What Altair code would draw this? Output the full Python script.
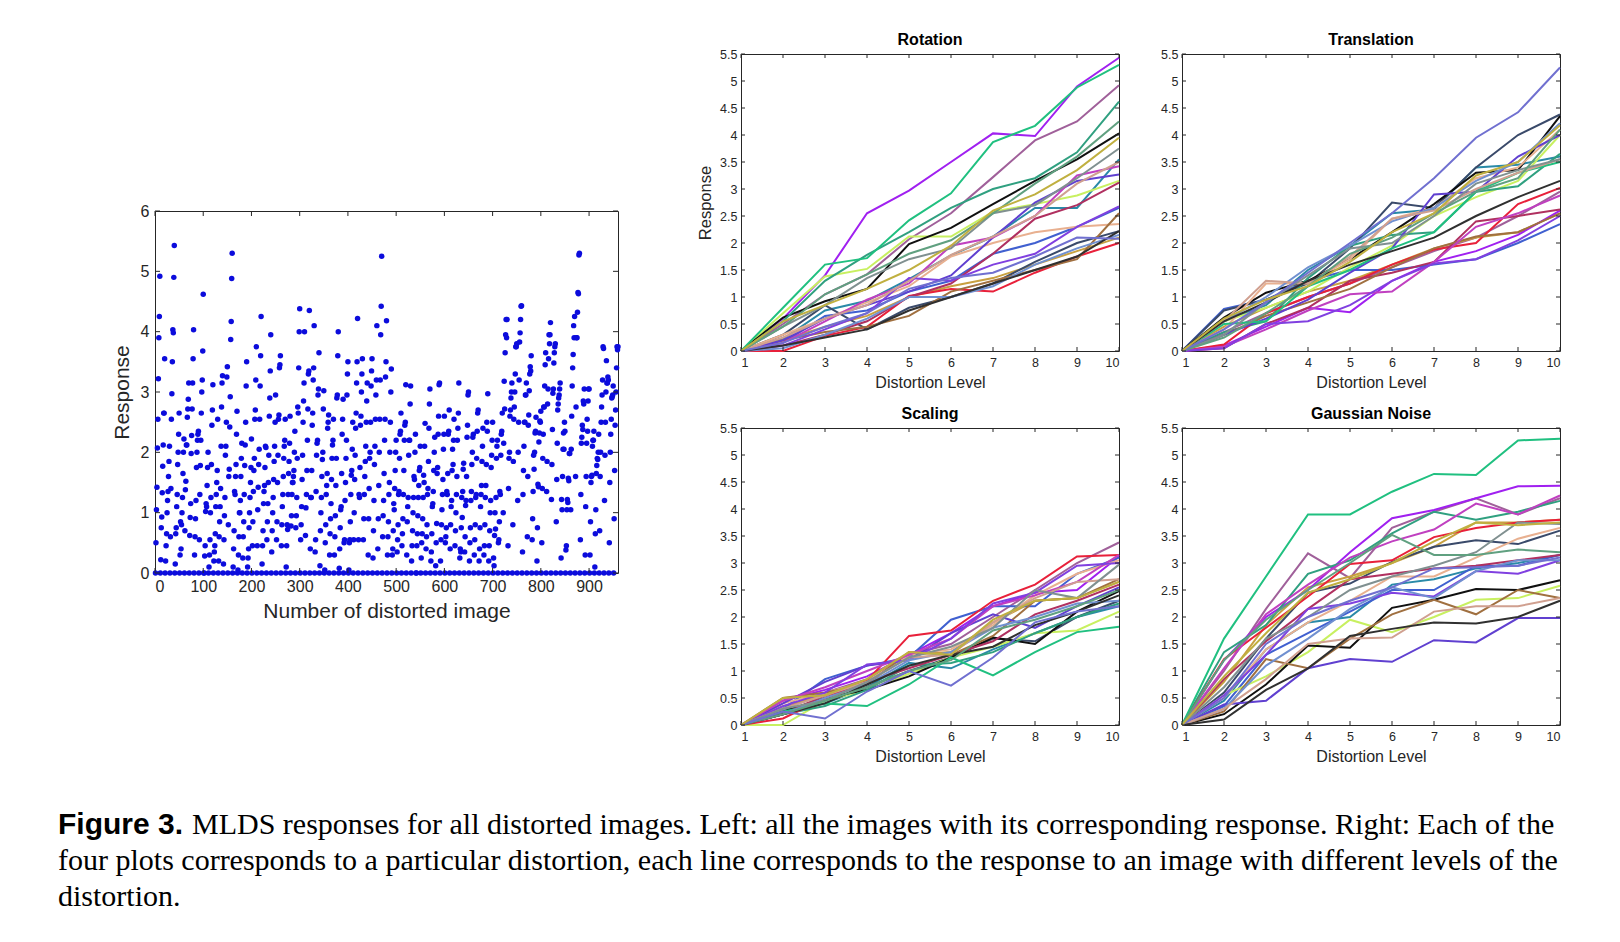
import altair as alt
import pandas as pd

levels = list(range(1, 11))
panel_ticks_y = [0, 0.5, 1, 1.5, 2, 2.5, 3, 3.5, 4, 4.5, 5, 5.5]
scatter_ticks_x = [0, 100, 200, 300, 400, 500, 600, 700, 800, 900]
scatter_ticks_y = [0, 1, 2, 3, 4, 5, 6]

palette = [
    "#a0609a", "#2a8aa8", "#c8a040", "#a020f0", "#4060d0", "#3a4a6a",
    "#c8f060", "#101010", "#e8b090", "#30a080", "#e8203a", "#b03060",
    "#a07040", "#6040d0", "#c040c0", "#20c080", "#8040e0", "#7090d0",
    "#d0a090", "#303030", "#809090", "#60a080", "#7070d0", "#c0b040",
]

rotation = [
    [0, 0.5, 1.05, 1.42, 2.07, 2.55, 3.22, 3.9, 4.25, 4.92],
    [0, 0.22, 0.75, 0.93, 1.33, 1.77, 2.12, 2.65, 2.65, 3.55],
    [0, 0.2, 0.45, 0.65, 1.0, 1.2, 1.35, 1.6, 1.85, 2.1],
    [0, 0.6, 1.4, 2.55, 2.97, 3.5, 4.03, 3.98, 4.9, 5.43],
    [0, 0.15, 0.65, 0.75, 1.1, 1.3, 1.8, 2.0, 2.3, 2.65],
    [0, 0.3, 0.85, 0.4, 0.8, 1.0, 1.25, 1.65, 2.0, 2.22],
    [0, 0.7, 1.38, 1.52, 2.12, 2.12, 2.58, 2.72, 2.88, 3.15],
    [0, 0.62, 0.92, 1.15, 1.98, 2.28, 2.72, 3.15, 3.55, 4.03],
    [0, 0.3, 0.6, 0.9, 1.2, 1.75, 2.0, 2.2, 2.3, 2.35],
    [0, 0.55, 1.3, 1.78, 2.2, 2.65, 3.0, 3.2, 3.68, 4.62],
    [0, 0.0, 0.28, 0.45, 1.02, 1.15, 1.1, 1.45, 1.75, 2.0],
    [0, 0.1, 0.3, 0.55, 1.0, 1.25, 1.8, 2.45, 2.7, 3.12],
    [0, 0.2, 0.35, 0.45, 0.65, 1.1, 1.3, 1.5, 1.7, 2.55],
    [0, 0.2, 0.6, 0.85, 1.1, 1.4, 2.1, 2.75, 3.15, 3.27],
    [0, 0.15, 0.55, 0.95, 1.25, 1.95, 2.1, 2.5, 3.25, 3.42],
    [0, 0.8, 1.6, 1.72, 2.42, 2.92, 3.87, 4.17, 4.88, 5.3],
    [0, 0.1, 0.4, 0.7, 1.35, 1.3, 1.6, 1.8, 2.3, 2.68],
    [0, 0.05, 0.3, 0.6, 1.0, 1.0, 1.2, 1.6, 1.9, 2.15],
    [0, 0.25, 0.6, 0.85, 1.3, 1.78, 2.12, 2.5, 3.1, 3.5],
    [0, 0.1, 0.25, 0.4, 0.75, 1.0, 1.25, 1.5, 1.75, 2.22],
    [0, 0.45, 0.85, 1.35, 1.7, 1.9, 2.55, 2.7, 3.2, 3.75],
    [0, 0.45, 1.05, 1.42, 1.8, 2.05, 2.55, 3.1, 3.6, 4.25],
    [0, 0.15, 0.45, 0.7, 1.15, 1.35, 1.45, 1.75, 2.1, 2.08],
    [0, 0.55, 0.85, 1.15, 1.5, 1.95, 2.6, 2.9, 3.35, 3.95],
]

translation = [
    [0, 0.35, 0.7, 1.0, 1.25, 1.55, 1.85, 2.1, 2.5, 2.95],
    [0, 0.55, 0.85, 1.5, 1.95, 2.55, 2.62, 3.4, 3.45, 3.6],
    [0, 0.45, 0.8, 1.1, 1.3, 1.6, 1.9, 2.1, 2.2, 2.55],
    [0, 0.1, 0.45, 0.8, 0.72, 1.3, 1.65, 1.85, 2.15, 2.6],
    [0, 0.78, 0.95, 1.3, 1.5, 1.5, 1.6, 1.7, 2.0, 2.35],
    [0, 0.75, 0.95, 1.25, 1.9, 2.75, 2.65, 3.4, 4.0, 4.38],
    [0, 0.55, 0.8, 1.1, 1.55, 1.95, 2.5, 2.85, 3.15, 4.0],
    [0, 0.62, 1.08, 1.3, 1.7, 2.2, 2.72, 3.3, 3.35, 4.35],
    [0, 0.4, 1.25, 1.25, 1.7, 2.45, 2.65, 3.2, 3.4, 4.1],
    [0, 0.35, 0.55, 1.35, 1.95, 2.15, 2.2, 2.95, 3.05, 3.65],
    [0, 0.12, 0.7, 1.0, 1.25, 1.6, 1.88, 2.0, 2.72, 3.02],
    [0, 0.05, 0.5, 0.8, 1.3, 1.45, 1.65, 2.4, 2.5, 2.62],
    [0, 0.3, 0.65, 0.9, 1.15, 1.55, 1.9, 2.12, 2.2, 2.55],
    [0, 0.3, 0.6, 0.95, 1.45, 1.9, 2.9, 2.95, 3.6, 4.0],
    [0, 0.08, 0.4, 0.75, 1.05, 1.1, 1.65, 2.3, 2.55, 2.88],
    [0, 0.5, 0.55, 1.2, 1.5, 1.9, 2.2, 2.95, 3.3, 3.5],
    [0, 0.05, 0.5, 0.55, 0.85, 1.3, 1.62, 1.7, 2.05, 2.5],
    [0, 0.55, 1.0, 1.55, 1.95, 2.4, 2.65, 3.15, 3.5, 4.22],
    [0, 0.55, 1.3, 1.25, 1.75, 2.45, 2.6, 3.0, 3.3, 3.55],
    [0, 0.55, 0.9, 1.3, 1.6, 1.85, 2.1, 2.5, 2.85, 3.15],
    [0, 0.3, 0.9, 1.4, 1.9, 2.0, 2.5, 3.1, 3.35, 3.55],
    [0, 0.25, 0.7, 1.2, 1.8, 2.1, 2.55, 2.95, 3.2, 4.1],
    [0, 0.4, 0.9, 1.45, 2.0, 2.55, 3.2, 3.95, 4.42, 5.25],
    [0, 0.6, 0.95, 1.2, 1.65, 2.2, 2.55, 3.25, 3.5, 4.18],
]

scaling = [
    [0, 0.3, 0.6, 0.85, 1.3, 1.5, 2.0, 2.5, 3.0, 3.38],
    [0, 0.3, 0.4, 0.7, 1.15, 1.05, 1.4, 1.7, 2.0, 2.2],
    [0, 0.35, 0.55, 0.8, 1.3, 1.35, 1.9, 2.3, 2.35, 2.65],
    [0, 0.45, 0.65, 0.9, 1.3, 1.7, 2.2, 2.45, 2.5, 3.12],
    [0, 0.3, 0.85, 1.1, 1.25, 1.95, 2.2, 2.2, 2.8, 3.1],
    [0, 0.2, 0.45, 0.7, 1.0, 1.25, 1.6, 1.55, 2.0, 2.3],
    [0, 0.0, 0.45, 0.65, 0.95, 1.25, 1.45, 1.7, 1.75, 2.1],
    [0, 0.25, 0.5, 0.65, 0.9, 1.25, 1.62, 1.5, 2.1, 2.48],
    [0, 0.4, 0.6, 0.8, 1.3, 1.4, 1.85, 2.4, 2.8, 3.05],
    [0, 0.2, 0.35, 0.65, 1.1, 1.15, 1.35, 1.7, 2.0, 2.25],
    [0, 0.12, 0.5, 0.82, 1.65, 1.75, 2.3, 2.6, 3.12, 3.15],
    [0, 0.2, 0.55, 0.8, 1.05, 1.3, 1.55, 2.05, 2.3, 2.6],
    [0, 0.5, 0.6, 0.75, 1.35, 1.3, 1.65, 2.3, 2.35, 2.7],
    [0, 0.4, 0.8, 1.1, 1.2, 1.7, 2.05, 1.8, 2.2, 2.55],
    [0, 0.45, 0.7, 1.0, 1.3, 1.6, 2.2, 2.4, 2.65, 3.15],
    [0, 0.25, 0.4, 0.35, 0.75, 1.25, 0.92, 1.35, 1.72, 1.82],
    [0, 0.35, 0.6, 1.12, 1.2, 1.6, 2.25, 2.45, 2.95, 3.0],
    [0, 0.2, 0.5, 0.75, 1.2, 1.35, 1.8, 2.0, 2.25, 2.3],
    [0, 0.3, 0.55, 0.8, 1.25, 1.3, 1.9, 2.35, 2.65, 2.7],
    [0, 0.2, 0.4, 0.75, 1.1, 1.3, 1.45, 1.85, 2.1, 2.4],
    [0, 0.3, 0.45, 0.8, 1.25, 1.45, 1.8, 2.5, 2.35, 2.97],
    [0, 0.2, 0.45, 0.7, 1.0, 1.2, 1.75, 1.95, 2.2, 2.5],
    [0, 0.25, 0.12, 0.62, 1.0, 0.73, 1.25, 1.9, 2.1, 2.2],
    [0, 0.5, 0.55, 0.85, 1.35, 1.3, 1.95, 2.3, 2.35, 2.65],
]

gaussian = [
    [0, 1.0, 2.15, 3.18, 2.72, 3.65, 3.95, 4.2, 3.9, 4.2],
    [0, 0.45, 1.4, 1.9, 2.0, 2.6, 2.7, 2.9, 3.0, 3.15],
    [0, 0.8, 1.85, 2.55, 2.75, 3.0, 3.3, 3.75, 3.75, 3.8],
    [0, 1.2, 2.0, 2.5, 3.2, 3.83, 3.98, 4.2, 4.42, 4.43],
    [0, 0.35, 1.3, 1.7, 2.1, 2.5, 2.5, 2.95, 2.95, 3.15],
    [0, 0.6, 1.6, 2.45, 2.62, 3.02, 3.3, 3.42, 3.35, 3.6],
    [0, 0.55, 0.9, 1.35, 1.95, 1.72, 2.0, 2.32, 2.35, 2.58],
    [0, 0.2, 0.75, 1.47, 1.43, 2.17, 2.32, 2.52, 2.5, 2.68],
    [0, 0.5, 1.4, 1.9, 2.3, 2.75, 2.75, 3.1, 3.45, 3.65],
    [0, 1.35, 1.85, 2.8, 3.05, 3.55, 3.95, 3.8, 3.95, 4.15],
    [0, 1.22, 1.8, 2.38, 2.98, 3.05, 3.48, 3.65, 3.75, 3.8],
    [0, 0.85, 1.55, 2.15, 2.7, 2.8, 2.9, 2.95, 3.05, 3.15],
    [0, 0.25, 1.22, 1.05, 1.6, 2.05, 2.32, 2.05, 2.5, 2.35],
    [0, 0.38, 0.45, 1.05, 1.22, 1.17, 1.57, 1.53, 1.98, 1.98],
    [0, 1.05, 2.05, 2.6, 3.1, 3.4, 3.62, 4.1, 3.9, 4.25],
    [0, 1.6, 2.75, 3.9, 3.9, 4.32, 4.65, 4.63, 5.27, 5.3],
    [0, 0.55, 1.3, 2.15, 2.25, 2.45, 2.38, 2.85, 2.8, 3.05],
    [0, 0.3, 1.1, 1.6, 2.15, 2.55, 2.35, 2.85, 3.05, 3.05],
    [0, 0.3, 0.85, 1.5, 1.6, 1.62, 2.1, 2.2, 2.2, 2.35],
    [0, 0.1, 0.65, 1.05, 1.65, 1.78, 1.9, 1.88, 2.0, 2.3],
    [0, 0.7, 1.6, 2.0, 2.5, 2.75, 2.95, 3.2, 3.75, 3.72],
    [0, 1.2, 1.95, 2.5, 3.0, 3.52, 3.15, 3.15, 3.25, 3.2],
    [0, 0.5, 1.5, 2.0, 2.3, 2.55, 2.9, 2.92, 2.95, 3.1],
    [0, 0.9, 1.7, 2.45, 2.7, 3.0, 3.4, 3.75, 3.7, 3.75],
]

panel_titles = ["Rotation", "Translation", "Scaling", "Gaussian Noise"]
caption_bold = "Figure 3."
caption_lines = [
    "MLDS responses for all distorted images. Left: all the images with its corresponding response. Right: Each of the",
    "four plots corresponds to a particular distortion, each line corresponds to the response to an image with different levels of the",
    "distortion.",
]

FONT = "Liberation Sans"
TXT = "#262626"
BOX = "#262626"


def panel_df(values):
    rows = []
    for i, line in enumerate(values):
        for lv, v in zip(levels, line):
            rows.append({"line": i, "level": lv, "response": v})
    return pd.DataFrame(rows)


def scatter_df():
    rows = []
    for b, values in enumerate([rotation, translation, scaling, gaussian]):
        for i, line in enumerate(values):
            for lv, v in zip(levels, line):
                rows.append({"idx": b * 240 + i * 10 + lv, "response": v})
    return pd.DataFrame(rows)


def inward_ticks(xvals, yvals, xscale, yscale, xaxis, yaxis, W, H, L):
    dx = pd.DataFrame({"v": xvals})
    dy = pd.DataFrame({"v": yvals})
    base_x = alt.Chart(dx).mark_rule(color=BOX, strokeWidth=1)
    base_y = alt.Chart(dy).mark_rule(color=BOX, strokeWidth=1)
    xb = base_x.encode(x=alt.X("v:Q", scale=xscale, axis=xaxis), y=alt.value(H), y2=alt.value(H - L))
    xt = base_x.encode(x=alt.X("v:Q", scale=xscale, axis=xaxis), y=alt.value(0), y2=alt.value(L))
    yl = base_y.encode(y=alt.Y("v:Q", scale=yscale, axis=yaxis), x=alt.value(0), x2=alt.value(L))
    yr = base_y.encode(y=alt.Y("v:Q", scale=yscale, axis=yaxis), x=alt.value(W), x2=alt.value(W - L))
    return [xb, xt, yl, yr]


# ---------- scatter ----------
SW, SH = 463, 362
sx = alt.Scale(domain=[0, 960], nice=False, zero=False)
sy = alt.Scale(domain=[0, 6], nice=False)
sx_axis = alt.Axis(values=scatter_ticks_x, title="Number of distorted image", labelFontSize=16,
                   titleFontSize=21, labelPadding=5, titlePadding=6, ticks=False, domain=False, grid=False)
sy_axis = alt.Axis(values=scatter_ticks_y, title="Response", labelFontSize=16, titleFontSize=21,
                   labelPadding=6, titlePadding=8, ticks=False, domain=False, grid=False)
scatter_pts = alt.Chart(scatter_df()).mark_circle(size=30, color="#0c0cdc", opacity=1).encode(
    x=alt.X("idx:Q", scale=sx, axis=sx_axis),
    y=alt.Y("response:Q", scale=sy, axis=sy_axis),
)
scatter = alt.layer(scatter_pts, *inward_ticks(scatter_ticks_x, scatter_ticks_y, sx, sy, sx_axis, sy_axis,
                                               SW, SH, 5)).properties(width=SW, height=SH)

spacer = alt.Chart(pd.DataFrame({"a": [0]})).mark_point(opacity=0).properties(
    width=SW, height=147, view=alt.ViewBackground(stroke="transparent"))

left_col = alt.vconcat(spacer, scatter, spacing=0)

# ---------- panels ----------
PW, PH = 378, 297


def panel(values, title, ytitle):
    px = alt.Scale(domain=[1, 10], nice=False, zero=False)
    py = alt.Scale(domain=[0, 5.5], nice=False)
    yopts = dict(values=panel_ticks_y, format="~g", labelFontSize=12.5, labelPadding=4,
                 ticks=False, domain=False, grid=False)
    if ytitle:
        yopts.update(title=ytitle, titleFontSize=16.5, titlePadding=6)
    else:
        yopts.update(title="")
    yaxis = alt.Axis(**yopts)
    xaxis = alt.Axis(values=levels, title="Distortion Level", labelFontSize=12.5, titleFontSize=16,
                     labelPadding=5, titlePadding=6, ticks=False, domain=False, grid=False)
    lines = alt.Chart(panel_df(values)).mark_line(strokeWidth=2).encode(
        x=alt.X("level:Q", scale=px, axis=xaxis),
        y=alt.Y("response:Q", scale=py, axis=yaxis),
        color=alt.Color("line:N", scale=alt.Scale(domain=list(range(24)), range=palette), legend=None),
    )
    return alt.layer(lines, *inward_ticks(levels, panel_ticks_y, px, py, xaxis, yaxis, PW, PH, 4)).properties(
        width=PW, height=PH,
        title=alt.TitleParams(title, fontSize=16, fontWeight="bold", font=FONT, color="black", offset=0))


rot = panel(rotation, panel_titles[0], "Response")
tra = panel(translation, panel_titles[1], None)
sca = panel(scaling, panel_titles[2], None)
gau = panel(gaussian, panel_titles[3], None)

right_grid = alt.vconcat(
    alt.hconcat(rot, tra, spacing=36),
    alt.hconcat(sca, gau, spacing=36),
    spacing=14,
)

top = alt.hconcat(left_col, right_grid, spacing=75)

# ---------- caption ----------
cap_base = alt.Chart(pd.DataFrame({"a": [0]}))
CAP = 30
cap_layers = [
    cap_base.mark_text(align="left", baseline="alphabetic", font=FONT, fontWeight="bold", fontSize=CAP,
                       color="black").encode(x=alt.value(-97), y=alt.value(58), text=alt.value(caption_bold)),
    cap_base.mark_text(align="left", baseline="alphabetic", font="Liberation Serif", fontSize=CAP,
                       color="black").encode(x=alt.value(37), y=alt.value(58), text=alt.value(caption_lines[0])),
    cap_base.mark_text(align="left", baseline="alphabetic", font="Liberation Serif", fontSize=CAP,
                       color="black").encode(x=alt.value(-97), y=alt.value(94), text=alt.value(caption_lines[1])),
    cap_base.mark_text(align="left", baseline="alphabetic", font="Liberation Serif", fontSize=CAP,
                       color="black").encode(x=alt.value(-97), y=alt.value(130), text=alt.value(caption_lines[2])),
]
caption = alt.layer(*cap_layers).properties(width=1300, height=140,
                                            view=alt.ViewBackground(stroke="transparent"))

chart = alt.vconcat(top, caption, spacing=10).properties(
    padding={"left": 49, "top": 23, "right": 5, "bottom": 5}
).configure_axis(
    labelFont=FONT, titleFont=FONT, labelColor=TXT, titleColor=TXT, titleFontWeight="normal"
).configure_view(
    stroke=BOX, strokeWidth=1
).configure_title(font=FONT)

chart.save("out.html", embed_options={"renderer": "svg", "actions": False})
